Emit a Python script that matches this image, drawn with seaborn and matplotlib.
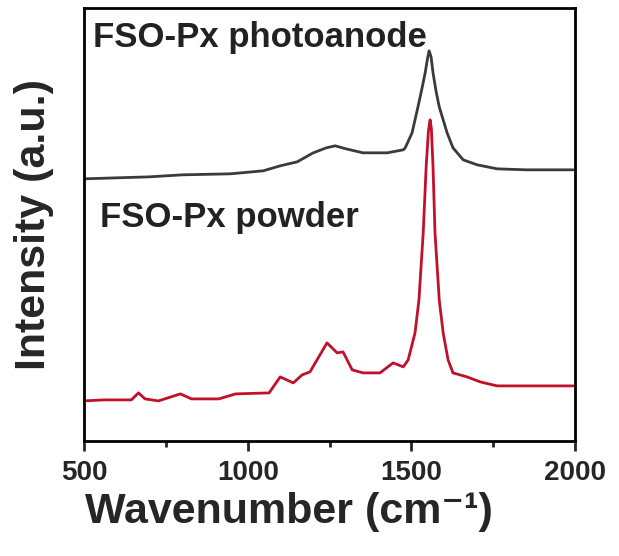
import numpy as np
import pandas as pd
import matplotlib
matplotlib.use("Agg")
import matplotlib.pyplot as plt
import seaborn as sns

# Raman spectra (intensity in arbitrary units, offset stacked)
wn_anode = [500, 600, 700, 800, 946, 1047, 1099, 1151, 1200, 1240, 1267, 1300,
            1352, 1426, 1475, 1481, 1502, 1520, 1532, 1542, 1549, 1554, 1560,
            1566, 1575, 1585, 1609, 1627, 1658, 1701, 1762, 1850, 1994]
int_anode = [262, 263, 264, 266, 267, 270, 275, 279, 288, 293, 295, 292,
             288, 288, 291, 293, 308, 334, 352, 368, 382, 390, 384,
             368, 350, 334, 308, 293, 281, 276, 272, 271, 271]

wn_powder = [500, 560, 644, 666, 686, 727, 794, 828, 911, 963, 1065, 1099,
             1139, 1166, 1190, 1242, 1273, 1291, 1319, 1352, 1404, 1444, 1475,
             1490, 1511, 1523, 1536, 1545, 1552, 1557, 1561, 1566, 1572, 1585,
             1597, 1612, 1627, 1670, 1710, 1762, 1994]
int_powder = [40, 41, 41, 48, 42, 40, 47, 42, 42, 47, 48, 64,
              58, 66, 69, 98, 88, 89, 71, 68, 68, 78, 74,
              81, 108, 141, 208, 274, 310, 321, 312, 274, 208, 141,
              108, 81, 68, 64, 59, 55, 55]

df = pd.concat([
    pd.DataFrame({"wn": wn_anode, "I": int_anode, "sample": "photoanode"}),
    pd.DataFrame({"wn": wn_powder, "I": int_powder, "sample": "powder"}),
])

sns.set_style("ticks")
plt.rcParams['font.family'] = ['Liberation Sans', 'DejaVu Sans']
plt.rcParams['font.weight'] = 'bold'

fig = plt.figure(figsize=(6.19, 5.56), dpi=100)
ax = fig.add_axes([0.136, 0.207, 0.793, 0.779])

sns.lineplot(data=df, x="wn", y="I", hue="sample",
             palette={"photoanode": "#3a3a3a", "powder": "#c0102a"},
             linewidth=2.0, legend=False, ax=ax, sort=False)

ax.set_xlim(500, 2000)
ax.set_ylim(0, 433)
ax.set_xticks([500, 1000, 1500, 2000])
ax.set_xticks([750, 1250, 1750], minor=True)
ax.set_yticks([])
ax.tick_params(axis='x', which='major', length=7, width=2, labelsize=20, pad=7)
ax.tick_params(axis='x', which='minor', length=4, width=2)
for lab in ax.get_xticklabels():
    lab.set_fontweight('bold')
for s in ax.spines.values():
    s.set_linewidth(2)
    s.set_color('black')

ax.set_xlabel("Wavenumber (cm\u207b\u00b9)", fontsize=31, fontweight='bold')
ax.xaxis.set_label_coords(0.418, -0.118)
ax.set_ylabel("Intensity (a.u.)", fontsize=31, fontweight='bold', labelpad=22)

ax.text(0.018, 0.91, "FSO-Px photoanode", transform=ax.transAxes,
        fontsize=25, fontweight='bold', color='#222222', va='baseline', ha='left')
ax.text(0.033, 0.494, "FSO-Px powder", transform=ax.transAxes,
        fontsize=25, fontweight='bold', color='#222222', va='baseline', ha='left')

fig.savefig("out.png", dpi=100)
